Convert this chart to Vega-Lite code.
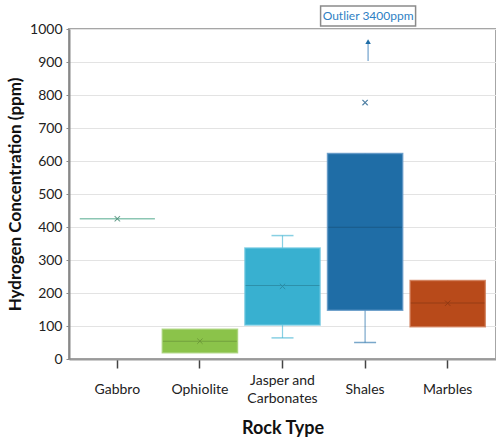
{
  "$schema": "https://vega.github.io/schema/vega-lite/v6.json",
  "width": 427,
  "height": 330,
  "autosize": {"type": "none"},
  "padding": {"left": 69, "top": 29, "right": 0, "bottom": 81},
  "background": "white",
  "config": {
    "font": "Lato",
    "view": {"stroke": "#a6a6a6", "strokeWidth": 2},
    "axis": {"labelFont": "Lato", "titleFont": "Lato", "labelColor": "#222", "titleColor": "#111"},
    "axisQuantitative": {"tickCount": 10, "labelOverlap": false}
  },
  "datasets": {
    "boxes": [
      {"rock": "Gabbro", "lo": 425, "q1": 425, "median": null, "q3": 425, "hi": 425, "mean": 425},
      {"rock": "Ophiolite", "lo": 19, "q1": 19, "median": 54, "q3": 90, "hi": 90, "mean": 54},
      {"rock": "Jasper and Carbonates", "lo": 64, "q1": 103, "median": 223, "q3": 336, "hi": 374, "mean": 220},
      {"rock": "Shales", "lo": 50, "q1": 148, "median": 399, "q3": 623, "hi": 623, "mean": 777},
      {"rock": "Marbles", "lo": 98, "q1": 98, "median": 170, "q3": 238, "hi": 238, "mean": 169}
    ],
    "caps": [
      {"rock": "Jasper and Carbonates", "value": 64},
      {"rock": "Jasper and Carbonates", "value": 374},
      {"rock": "Shales", "value": 50}
    ],
    "arrow": [
      {"rock": "Shales", "from": 903, "to": 958, "head": 962}
    ],
    "notes": [
      {"rock": "Shales", "y1": 1009, "y2": 1070, "ymid": 1040, "label": "Outlier 3400ppm"}
    ]
  },
  "encoding": {
    "x": {
      "field": "rock",
      "type": "nominal",
      "sort": ["Gabbro", "Ophiolite", "Jasper and Carbonates", "Shales", "Marbles"],
      "scale": {"paddingInner": 0.09, "paddingOuter": 0.13},
      "axis": {
        "title": "Rock Type",
        "titleFontSize": 18,
        "titleFontWeight": "bold",
        "titlePadding": 14,
        "labelAngle": 0,
        "labelFontSize": 14,
        "labelBaseline": "top",
        "labelPadding": {"condition": {"test": "datum.label == 'Jasper and Carbonates'", "value": 5}, "value": 14},
        "labelLineHeight": 18,
        "labelExpr": "datum.label == 'Jasper and Carbonates' ? ['Jasper and', 'Carbonates'] : datum.label",
        "tickSize": 9,
        "tickColor": "#444",
        "tickWidth": 1.5,
        "domainColor": "#9a9a9a",
        "domainWidth": 2,
        "grid": false
      }
    }
  },
  "layer": [
    {
      "data": {"name": "boxes"},
      "mark": {"type": "rule", "strokeWidth": 1.2, "opacity": 0.6},
      "encoding": {
        "y": {
          "field": "lo",
          "type": "quantitative",
          "scale": {"domain": [0, 1000], "nice": false},
          "axis": {
            "title": "Hydrogen Concentration (ppm)",
            "titleFontSize": 17,
            "titleFontWeight": "bold",
            "titlePadding": 5,
            "tickCount": 10,
            "format": "d",
            "labelOverlap": false,
            "labelFontSize": 14,
            "labelPadding": 4,
            "tickSize": 3,
            "tickColor": "#888",
            "domainColor": "#888",
            "domainWidth": 2,
            "gridColor": "#e3e3e3",
            "gridWidth": 1.2
          }
        },
        "y2": {"field": "hi"},
        "color": {
          "field": "rock",
          "type": "nominal",
          "scale": {
            "domain": ["Gabbro", "Ophiolite", "Jasper and Carbonates", "Shales", "Marbles"],
            "range": ["#5dae94", "#8bc34a", "#38b0d0", "#1f6da6", "#b84a1a"]
          },
          "legend": null
        }
      }
    },
    {
      "data": {"name": "caps"},
      "mark": {"type": "tick", "size": 22, "thickness": 1.5, "opacity": 0.6},
      "encoding": {
        "y": {"field": "value", "type": "quantitative"},
        "color": {"field": "rock", "type": "nominal", "legend": null}
      }
    },
    {
      "data": {"name": "boxes"},
      "mark": {"type": "bar", "width": {"band": 1}, "strokeWidth": 1.5, "strokeOpacity": 0.8},
      "encoding": {
        "y": {"field": "q1", "type": "quantitative"},
        "y2": {"field": "q3"},
        "color": {"field": "rock", "type": "nominal", "legend": null},
        "stroke": {"field": "rock", "type": "nominal", "scale": {"domain": ["Gabbro", "Ophiolite", "Jasper and Carbonates", "Shales", "Marbles"], "range": ["#6fb8a0", "#a2d070", "#6cc6de", "#5b93c4", "#d07a55"]}, "legend": null}
      }
    },
    {
      "data": {"name": "boxes"},
      "mark": {"type": "tick", "size": 74, "thickness": 1, "color": "#000", "opacity": 0.18},
      "encoding": {
        "y": {"field": "median", "type": "quantitative"}
      }
    },
    {
      "data": {"name": "boxes"},
      "mark": {"type": "point", "shape": "M-1,-1L1,1M-1,1L1,-1", "size": 28, "filled": false, "strokeWidth": 1.2, "opacity": 0.7},
      "encoding": {
        "y": {"field": "mean", "type": "quantitative"},
        "color": {"field": "rock", "type": "nominal", "legend": null}
      }
    },
    {
      "data": {"name": "boxes"},
      "mark": {"type": "point", "shape": "M-1,-1L1,1M-1,1L1,-1", "size": 28, "filled": false, "strokeWidth": 1, "color": "#000", "opacity": 0.2},
      "encoding": {
        "y": {"field": "mean", "type": "quantitative"}
      }
    },
    {
      "data": {"name": "arrow"},
      "mark": {"type": "rule", "color": "#7aa8d0", "strokeWidth": 1.3, "xOffset": 3},
      "encoding": {
        "y": {"field": "from", "type": "quantitative"},
        "y2": {"field": "to"}
      }
    },
    {
      "data": {"name": "arrow"},
      "mark": {"type": "point", "shape": "triangle-up", "size": 30, "filled": true, "color": "#1f6da6", "opacity": 1, "xOffset": 3},
      "encoding": {
        "y": {"field": "head", "type": "quantitative"}
      }
    },
    {
      "data": {"name": "notes"},
      "mark": {"type": "bar", "width": 95, "fill": "white", "stroke": "#8a8a8a", "strokeWidth": 1.5, "xOffset": 3, "clip": false},
      "encoding": {
        "y": {"field": "y1", "type": "quantitative"},
        "y2": {"field": "y2"}
      }
    },
    {
      "data": {"name": "notes"},
      "mark": {"type": "text", "font": "Lato", "fontSize": 12, "color": "#2f7fc4", "xOffset": 3, "baseline": "middle", "align": "center"},
      "encoding": {
        "y": {"field": "ymid", "type": "quantitative"},
        "text": {"field": "label"}
      }
    }
  ]
}
